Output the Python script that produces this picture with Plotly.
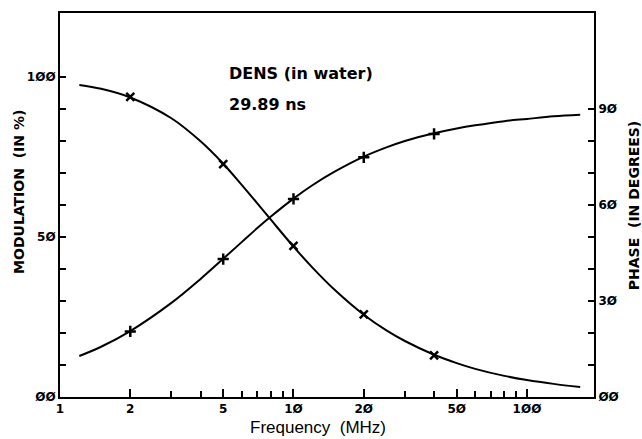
import plotly.graph_objects as go

# Frequency sweep (MHz) for the fitted curves
freq_fit = [1.21, 1.5, 2, 3, 4, 5, 6, 7, 8, 10, 12, 15, 20, 25, 30, 40, 50, 60, 80, 100, 130, 169]
modulation_fit = [97.5, 96.3, 93.6, 87.1, 79.9, 72.9, 66.3, 60.5, 55.4, 47.0, 40.6, 33.5,
                  25.7, 20.8, 17.5, 13.2, 10.6, 8.8, 6.6, 5.3, 4.1, 3.1]
phase_fit = [12.8, 15.7, 20.6, 29.4, 36.9, 43.2, 48.4, 52.8, 56.4, 62.0, 66.1, 70.4,
             75.1, 78.0, 80.0, 82.4, 83.9, 84.9, 86.2, 86.9, 87.7, 88.2]

# Measured points
freq_meas = [2, 5, 10, 20, 40]
modulation_meas = [93.8, 72.8, 47.2, 25.8, 13.0]
phase_meas = [20.5, 43.1, 61.9, 74.9, 82.2]

# Tick labels (plotter style slashed zeros)
x_tickvals = [1, 2, 5, 10, 20, 50, 100]
x_ticktext = ["1", "2", "5", "1Ø", "2Ø", "5Ø", "1ØØ"]
x_minor = [3, 4, 6, 7, 8, 9, 30, 40, 60, 70, 80, 90]
mod_tickvals = [0, 50, 100]
mod_ticktext = ["ØØ", "5Ø", "1ØØ"]
mod_minor = [10, 20, 30, 40, 60, 70, 80, 90]
phase_tickvals = [0, 30, 60, 90]
phase_ticktext = ["ØØ", "3Ø", "6Ø", "9Ø"]
phase_minor = [10, 20, 40, 50, 70, 80]

INK = "black"
tick_font = dict(family="DejaVu Sans", size=12, color=INK, weight="bold")
label_font = dict(family="DejaVu Sans", size=14, color=INK, weight="bold")
note_font = dict(family="DejaVu Sans", size=16, color=INK, weight="bold")

fig = go.Figure()
fig.add_trace(go.Scatter(x=freq_fit, y=modulation_fit, mode="lines", line=dict(color=INK, width=2, shape="spline"),
                         yaxis="y", showlegend=False, hoverinfo="skip"))
fig.add_trace(go.Scatter(x=freq_fit, y=phase_fit, mode="lines", line=dict(color=INK, width=2, shape="spline"),
                         yaxis="y2", showlegend=False, hoverinfo="skip"))
fig.add_trace(go.Scatter(x=freq_meas, y=modulation_meas, mode="markers", yaxis="y", showlegend=False,
                         marker=dict(symbol="x-thin", size=8, line=dict(color=INK, width=2.5))))
fig.add_trace(go.Scatter(x=freq_meas, y=phase_meas, mode="markers", yaxis="y2", showlegend=False,
                         marker=dict(symbol="cross-thin", size=8, line=dict(color=INK, width=2.5))))

fig.update_layout(
    width=642, height=439,
    margin=dict(l=60, r=48, t=11, b=42),
    paper_bgcolor="white", plot_bgcolor="white",
    xaxis=dict(type="log", range=[0, 2.287], tickmode="array", tickvals=x_tickvals, ticktext=x_ticktext,
               ticks="inside", ticklen=8, tickwidth=2, tickcolor=INK, tickfont=tick_font,
               minor=dict(tickmode="array", tickvals=x_minor, ticks="inside", ticklen=6, tickwidth=2, tickcolor=INK),
               showline=True, linecolor=INK, linewidth=2, mirror=True, showgrid=False, zeroline=False),
    yaxis=dict(range=[0, 120], tickmode="array", tickvals=mod_tickvals, ticktext=mod_ticktext,
               ticks="inside", ticklen=6, tickwidth=2, tickcolor=INK, tickfont=tick_font,
               minor=dict(tickmode="array", tickvals=mod_minor, ticks="inside", ticklen=6, tickwidth=2, tickcolor=INK),
               showline=True, linecolor=INK, linewidth=2, showgrid=False, zeroline=False),
    yaxis2=dict(range=[0, 120], overlaying="y", side="right", tickmode="array", tickvals=phase_tickvals,
                ticktext=phase_ticktext, ticks="inside", ticklen=6, tickwidth=2, tickcolor=INK, tickfont=tick_font,
                minor=dict(tickmode="array", tickvals=phase_minor, ticks="inside", ticklen=6, tickwidth=2, tickcolor=INK),
                showline=True, linecolor=INK, linewidth=2, showgrid=False, zeroline=False),
    annotations=[
        dict(text="DENS (in water)", x=0.3127, y=0.842, xref="paper", yref="paper", xanchor="left",
             yanchor="middle", showarrow=False, font=note_font),
        dict(text="29.89 ns", x=0.3127, y=0.762, xref="paper", yref="paper", xanchor="left",
             yanchor="middle", showarrow=False, font=note_font),
        dict(text="MODULATION  (IN %)", x=-0.0768, y=0.534, xref="paper", yref="paper", textangle=-90,
             xanchor="center", yanchor="middle", showarrow=False, font=label_font),
        dict(text="PHASE  (IN DEGREES)", x=1.075, y=0.497, xref="paper", yref="paper", textangle=-90,
             xanchor="center", yanchor="middle", showarrow=False, font=label_font),
        dict(text="Frequency  (MHz)", x=0.483, y=-0.08, xref="paper", yref="paper",
             xanchor="center", yanchor="middle", showarrow=False,
             font=dict(family="Liberation Sans", size=17, color=INK)),
    ],
)

fig.write_html("out.html")
